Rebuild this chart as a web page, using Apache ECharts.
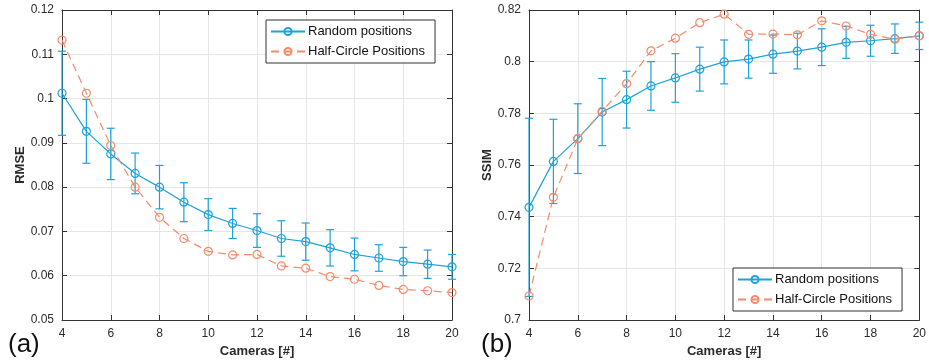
<!DOCTYPE html>
<html>
<head>
<meta charset="utf-8">
<script src="https://cdn.jsdelivr.net/npm/echarts@6/dist/echarts.min.js"></script>
<style>
  html, body { margin: 0; padding: 0; background: #fff; }
  #container { width: 929px; height: 363px; }
</style>
</head>
<body>
<div id="container"></div>
<script>
const cameras = [4, 5, 6, 7, 8, 9, 10, 11, 12, 13, 14, 15, 16, 17, 18, 19, 20]

// (a) RMSE
const rmseRandom = [0.1012, 0.0926, 0.0875, 0.0831, 0.0800, 0.0766, 0.0738, 0.0718, 0.0702, 0.0684, 0.0677, 0.0663, 0.0648, 0.0640, 0.0632, 0.0626, 0.0620]
const rmseRandomErr = [0.0095, 0.0072, 0.0058, 0.0046, 0.0049, 0.0044, 0.0036, 0.0034, 0.0038, 0.0040, 0.0042, 0.0041, 0.0037, 0.0030, 0.0032, 0.0032, 0.0028]
const rmseHalf = [0.1132, 0.1012, 0.0894, 0.0800, 0.0732, 0.0684, 0.0655, 0.0647, 0.0648, 0.0622, 0.0617, 0.0598, 0.0592, 0.0578, 0.0569, 0.0566, 0.0562]

// (b) SSIM
const ssimRandom = [0.7436, 0.7614, 0.7702, 0.7805, 0.7853, 0.7906, 0.7937, 0.7971, 0.7999, 0.8010, 0.8029, 0.8041, 0.8056, 0.8075, 0.8081, 0.8089, 0.8100]
const ssimRandomErr = [0.0345, 0.0163, 0.0135, 0.0130, 0.0110, 0.0094, 0.0094, 0.0085, 0.0085, 0.0074, 0.0074, 0.0069, 0.0071, 0.0062, 0.0060, 0.0057, 0.0053]
const ssimHalf = [0.7093, 0.7475, 0.7702, 0.7808, 0.7915, 0.8042, 0.8091, 0.8151, 0.8184, 0.8106, 0.8107, 0.8104, 0.8158, 0.8138, 0.8106, 0.8087, 0.8100]

const blue = '#1ea2d9'
const orange = '#f58a6c'
const font = 'Liberation Sans, Arial, Helvetica, sans-serif'
const ink = '#2b2b2b'

const pairs = (ys) => cameras.map((x, i) => [x, ys[i]])
const errData = (ys, es) => cameras.map((x, i) => [x, ys[i] - es[i], ys[i] + es[i]])

const dom = document.getElementById('container')
const myChart = echarts.init(dom)

const errorBar = (gridIndex, data) => ({
    type: 'custom',
    name: 'err' + gridIndex,
    xAxisIndex: gridIndex * 2,
    yAxisIndex: gridIndex * 2,
    z: 3,
    renderItem: (params, api) => {
        const x = api.value(0)
        const top = api.coord([x, api.value(2)])
        const bot = api.coord([x, api.value(1)])
        const w = 4
        const style = { stroke: blue, lineWidth: 1.2 }
        return {
            type: 'group',
            children: [
                { type: 'line', shape: { x1: top[0], y1: top[1], x2: bot[0], y2: bot[1] }, style },
                { type: 'line', shape: { x1: top[0] - w, y1: top[1], x2: top[0] + w, y2: top[1] }, style },
                { type: 'line', shape: { x1: bot[0] - w, y1: bot[1], x2: bot[0] + w, y2: bot[1] }, style }
            ]
        }
    },
    encode: { x: 0, y: [1, 2] },
    data: data
})

const xAxes = (gridIndex) => [
    {
        type: 'value',
        gridIndex,
        min: 4,
        max: 20,
        interval: 2,
        name: 'Cameras [#]',
        nameLocation: 'middle',
        nameGap: 22,
        nameTextStyle: { fontFamily: font, fontWeight: 'bold', fontSize: 13, color: ink },
        axisLine: { lineStyle: { color: '#333', width: 1 } },
        axisTick: { inside: true, length: 5, lineStyle: { color: '#333' } },
        axisLabel: { fontFamily: font, fontSize: 12, color: ink, margin: 8 },
        splitLine: { show: true, lineStyle: { color: '#e6e6e6' } }
    },
    {
        type: 'value',
        gridIndex,
        position: 'top',
        min: 4,
        max: 20,
        interval: 2,
        axisLine: { lineStyle: { color: '#333', width: 1 } },
        axisTick: { inside: true, length: 5, lineStyle: { color: '#333' } },
        axisLabel: { show: false },
        splitLine: { show: false }
    }
]

const yAxes = (gridIndex, name, min, max, interval, gap) => [
    {
        type: 'value',
        gridIndex,
        min,
        max,
        interval,
        name,
        nameLocation: 'middle',
        nameGap: gap,
        nameTextStyle: { fontFamily: font, fontWeight: 'bold', fontSize: 13, color: ink },
        axisLine: { show: true, lineStyle: { color: '#333', width: 1 } },
        axisTick: { show: true, inside: true, length: 5, lineStyle: { color: '#333' } },
        axisLabel: { fontFamily: font, fontSize: 12, color: ink, margin: 8 },
        splitLine: { show: true, lineStyle: { color: '#e6e6e6' } }
    },
    {
        type: 'value',
        gridIndex,
        position: 'right',
        min,
        max,
        interval,
        axisLine: { show: true, lineStyle: { color: '#333', width: 1 } },
        axisTick: { show: true, inside: true, length: 5, lineStyle: { color: '#333' } },
        axisLabel: { show: false },
        splitLine: { show: false }
    }
]

const lineSeries = (gridIndex, name, data, color, dashed, z) => ({
    type: 'line',
    name,
    xAxisIndex: gridIndex * 2,
    yAxisIndex: gridIndex * 2,
    data,
    z,
    symbol: 'circle',
    symbolSize: 8,
    showAllSymbol: true,
    lineStyle: { color, width: 1.2, type: dashed ? [8, 5] : 'solid' },
    itemStyle: { color: 'rgba(255,255,255,0)', borderColor: color, borderWidth: 1.2 },
    emphasis: { disabled: true },
    animation: false
})

const legendNames = ['Random positions', 'Half-Circle Positions']
const legendBox = (left, top) => ({
    data: legendNames,
    orient: 'vertical',
    left,
    top,
    itemWidth: 34,
    itemHeight: 9,
    itemGap: 7,
    padding: [5, 10, 5, 4],
    backgroundColor: '#fff',
    borderColor: '#333',
    borderWidth: 1,
    borderRadius: 0,
    textStyle: { fontFamily: font, fontSize: 13, color: '#111', padding: [0, 0, 0, -2] }
})

const option = {
    backgroundColor: '#fff',
    animation: false,
    title: [
        { text: '(a)', left: 3, top: 327, textStyle: { fontFamily: font, fontSize: 26, fontWeight: 'normal', color: '#111' } },
        { text: '(b)', left: 476, top: 327, textStyle: { fontFamily: font, fontSize: 26, fontWeight: 'normal', color: '#111' } }
    ],
    legend: [legendBox(266, 20), legendBox(733, 268)],
    grid: [
        { left: 62, right: 477, top: 10, bottom: 43 },
        { left: 529, right: 8, top: 10, bottom: 43 }
    ],
    xAxis: [...xAxes(0), ...xAxes(1)],
    yAxis: [
        ...yAxes(0, 'RMSE', 0.05, 0.12, 0.01, 32),
        ...yAxes(1, 'SSIM', 0.7, 0.82, 0.02, 31)
    ],
    series: [
        errorBar(0, errData(rmseRandom, rmseRandomErr)),
        lineSeries(0, 'Random positions', pairs(rmseRandom), blue, false, 4),
        lineSeries(0, 'Half-Circle Positions', pairs(rmseHalf), orange, true, 5),
        errorBar(1, errData(ssimRandom, ssimRandomErr)),
        lineSeries(1, 'Random positions', pairs(ssimRandom), blue, false, 4),
        lineSeries(1, 'Half-Circle Positions', pairs(ssimHalf), orange, true, 5)
    ]
}

myChart.setOption(option)
</script>
</body>
</html>
